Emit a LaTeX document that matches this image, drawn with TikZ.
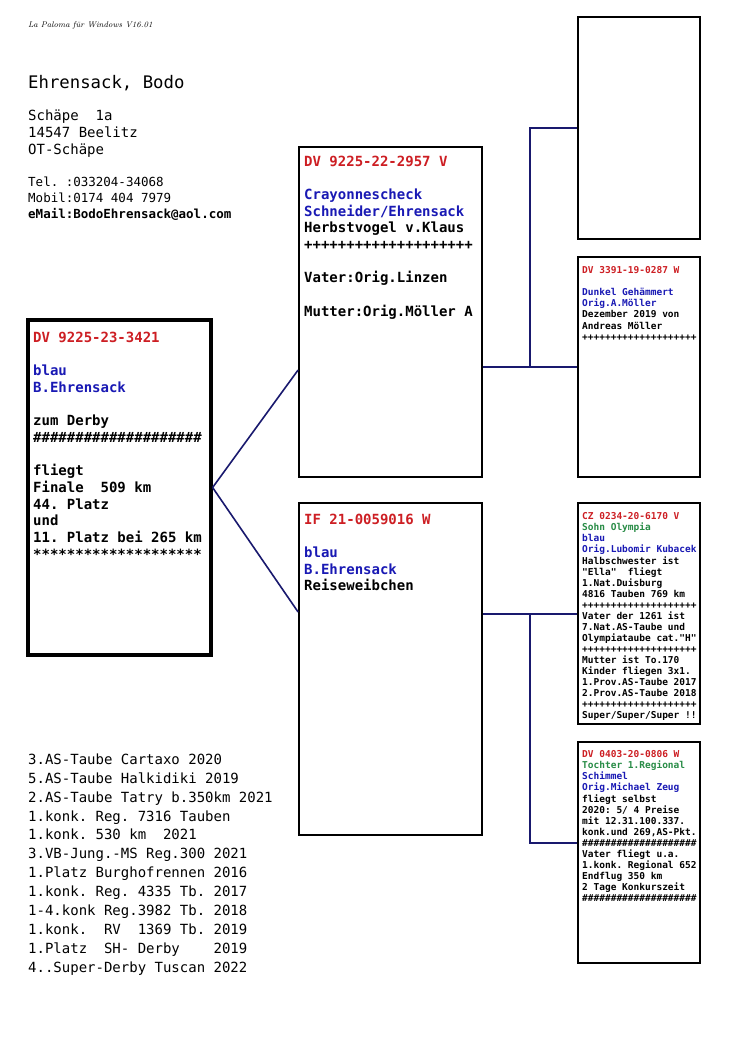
\documentclass[tikz,border=0pt]{standalone}
\usepackage{fontspec}
\setmonofont{DejaVu Sans Mono}
\definecolor{pred}{RGB}{205,30,35}
\definecolor{pblue}{RGB}{25,25,180}
\definecolor{pgreen}{RGB}{40,140,70}
\definecolor{pnavy}{RGB}{25,25,110}
\tikzset{
  box/.style={draw=black, line width=1.8pt, fill=white, inner sep=0},
  mainbox/.style={draw=black, line width=3.2pt, fill=white, inner sep=0},
  link/.style={draw=pnavy, line width=1.6pt},
  bigtxt/.style={inner sep=0, anchor=north west, align=left, font={\ttfamily\bfseries\fontsize{14}{16.7}\selectfont}},
  smalltxt/.style={inner sep=0, anchor=north west, align=left, font={\ttfamily\bfseries\fontsize{9.5}{11.06}\selectfont}},
  plaintxt/.style={inner sep=0, anchor=north west, align=left}
}
\begin{document}
\begin{tikzpicture}[x=1pt,y=-1pt]
\useasboundingbox[fill=white] (0,0) rectangle (750,1061);

% header
\node[inner sep=0, anchor=base west, font={\itshape\fontsize{8.2}{8.2}\selectfont}] (prog) at (28,27) {La Paloma für Windows V16.01};
\node[plaintxt, font={\ttfamily\fontsize{17.3}{20}\selectfont}] (name) at (28,75) {Ehrensack, Bodo};
\node[plaintxt, font={\ttfamily\fontsize{14}{17}\selectfont}] (addr) at (28,110) {Schäpe~ 1a\\14547 Beelitz\\OT-Schäpe};
\node[plaintxt, font={\ttfamily\fontsize{12.5}{16}\selectfont}] (tel) at (28,177) {Tel. :033204-34068\\Mobil:0174 404 7979\\\textbf{eMail:BodoEhrensack@aol.com}};

% boxes
\node[mainbox, minimum width=183pt, minimum height=335pt] (main) at (119.5,487.5) {};
\node[box, minimum width=183pt, minimum height=330pt] (father) at (390.5,312) {};
\node[box, minimum width=183pt, minimum height=332pt] (mother) at (390.5,669) {};
\node[box, minimum width=122pt, minimum height=222pt] (g1) at (639,128) {};
\node[box, minimum width=122pt, minimum height=220pt] (g2) at (639,367) {};
\node[box, minimum width=122pt, minimum height=221pt] (g3) at (639,613.5) {};
\node[box, minimum width=122pt, minimum height=221pt] (g4) at (639,852.5) {};

% connectors
\coordinate (fj) at (530,367);
\coordinate (mj) at (530,614);
\draw[link] (main.east) -- ([yshift=-58pt]father.west);
\draw[link] (main.east) -- ([yshift=57pt]mother.west);
\draw[link] (father.east |- fj) -- (g2.west |- fj);
\draw[link] (g1.west) -| (fj);
\draw[link] (mother.east |- mj) -- (g3.west |- mj);
\draw[link] ([yshift=9.5pt]g4.west) -| (mj);

% main box text
\node[bigtxt] (tmain) at (33,331.5) {\textcolor{pred}{DV 9225-23-3421}\\ \mbox{}\\
\textcolor{pblue}{blau}\\
\textcolor{pblue}{B.Ehrensack}\\ \mbox{}\\
zum Derby\\
\#\#\#\#\#\#\#\#\#\#\#\#\#\#\#\#\#\#\#\#\\ \mbox{}\\
fliegt\\
Finale~ 509 km\\
44. Platz\\
und\\
11. Platz bei 265 km\\
********************};

% father text
\node[bigtxt] (tfather) at (304,155.5) {\textcolor{pred}{DV 9225-22-2957 V}\\ \mbox{}\\
\textcolor{pblue}{Crayonnescheck}\\
\textcolor{pblue}{Schneider/Ehrensack}\\
Herbstvogel v.Klaus\\
++++++++++++++++++++\\ \mbox{}\\
Vater:Orig.Linzen\\ \mbox{}\\
Mutter:Orig.Möller A};

% mother text
\node[bigtxt] (tmother) at (304,513.5) {\textcolor{pred}{IF 21-0059016 W}\\ \mbox{}\\
\textcolor{pblue}{blau}\\
\textcolor{pblue}{B.Ehrensack}\\
Reiseweibchen};

% gen 3 texts
\node[smalltxt] (tg2) at (582,266.5) {\textcolor{pred}{DV 3391-19-0287 W}\\ \mbox{}\\
\textcolor{pblue}{Dunkel Gehämmert}\\
\textcolor{pblue}{Orig.A.Möller}\\
Dezember 2019 von\\
Andreas Möller\\
++++++++++++++++++++};

\node[smalltxt] (tg3) at (582,512.5) {\textcolor{pred}{CZ 0234-20-6170 V}\\
\textcolor{pgreen}{Sohn Olympia}\\
\textcolor{pblue}{blau}\\
\textcolor{pblue}{Orig.Lubomir Kubacek}\\
Halbschwester ist\\
"Ella"~ fliegt\\
1.Nat.Duisburg\\
4816 Tauben 769 km\\
++++++++++++++++++++\\
Vater der 1261 ist\\
7.Nat.AS-Taube und\\
Olympiataube cat."H"\\
++++++++++++++++++++\\
Mutter ist To.170\\
Kinder fliegen 3x1.\\
1.Prov.AS-Taube 2017\\
2.Prov.AS-Taube 2018\\
++++++++++++++++++++\\
Super/Super/Super !!};

\node[smalltxt] (tg4) at (582,750.5) {\textcolor{pred}{DV 0403-20-0806 W}\\
\textcolor{pgreen}{Tochter 1.Regional}\\
\textcolor{pblue}{Schimmel}\\
\textcolor{pblue}{Orig.Michael Zeug}\\
fliegt selbst\\
2020: 5/ 4 Preise\\
mit 12.31.100.337.\\
konk.und 269,AS-Pkt.\\
\#\#\#\#\#\#\#\#\#\#\#\#\#\#\#\#\#\#\#\#\\
Vater fliegt u.a.\\
1.konk. Regional 652\\
Endflug 350 km\\
2 Tage Konkurszeit\\
\#\#\#\#\#\#\#\#\#\#\#\#\#\#\#\#\#\#\#\#};

% results list
\node[plaintxt, font={\ttfamily\fontsize{14}{18.9}\selectfont}] (list) at (28,753.5) {3.AS-Taube Cartaxo 2020\\
5.AS-Taube Halkidiki 2019\\
2.AS-Taube Tatry b.350km 2021\\
1.konk. Reg. 7316 Tauben\\
1.konk. 530 km~ 2021\\
3.VB-Jung.-MS Reg.300 2021\\
1.Platz Burghofrennen 2016\\
1.konk. Reg. 4335 Tb. 2017\\
1-4.konk Reg.3982 Tb. 2018\\
1.konk.~ RV~ 1369 Tb. 2019\\
1.Platz~ SH- Derby~~~ 2019\\
4..Super-Derby Tuscan 2022};
\end{tikzpicture}
\end{document}
